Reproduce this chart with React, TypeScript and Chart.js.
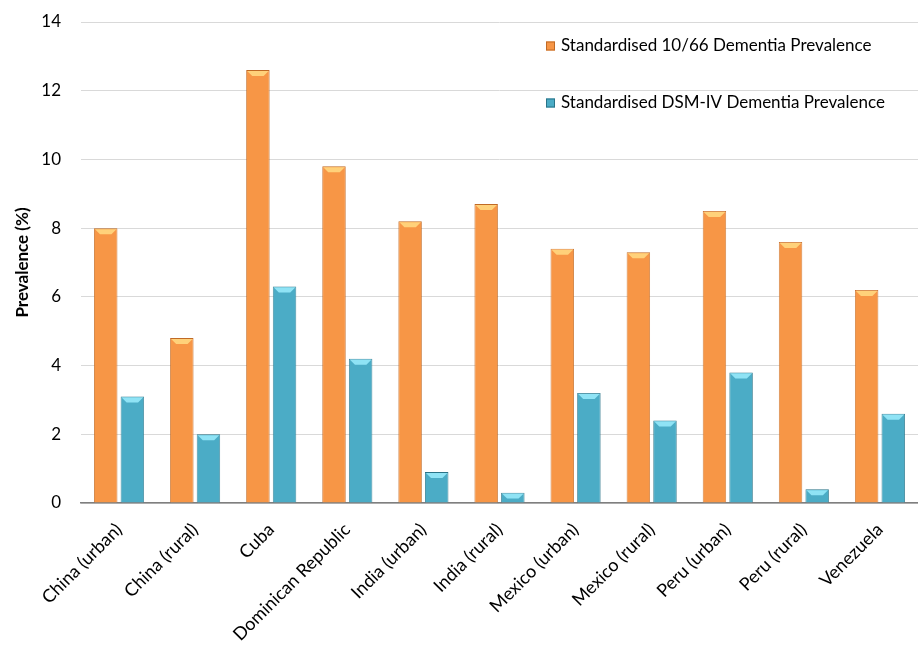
import React, { useEffect, useRef } from "react";
import { Chart, registerables } from "chart.js";

Chart.register(...registerables);

const categories = [
  "China (urban)",
  "China (rural)",
  "Cuba",
  "Dominican Republic",
  "India (urban)",
  "India (rural)",
  "Mexico (urban)",
  "Mexico (rural)",
  "Peru (urban)",
  "Peru (rural)",
  "Venezuela",
];
const prevalence1066 = [8.0, 4.8, 12.6, 9.8, 8.2, 8.7, 7.4, 7.3, 8.5, 7.6, 6.2];
const prevalenceDSM = [3.1, 2.0, 6.3, 4.2, 0.9, 0.3, 3.2, 2.4, 3.8, 0.4, 2.6];
const seriesNames = [
  "Standardised 10/66 Dementia Prevalence",
  "Standardised DSM-IV Dementia Prevalence",
];
const yTicks = [0, 2, 4, 6, 8, 10, 12, 14];

const FONT = "Lato, 'Open Sans', sans-serif";
const ORANGE = "#F79646";
const ORANGE_DARK = "#C06A25";
const ORANGE_LIGHT = "#FFD17A";
const BLUE = "#4BACC6";
const BLUE_DARK = "#2A7387";
const BLUE_LIGHT = "#8FE3F5";

const baseColors = [ORANGE, BLUE];
const darkColors = [ORANGE_DARK, BLUE_DARK];
const lightColors = [ORANGE_LIGHT, BLUE_LIGHT];

function barGradient(ctx: any, base: string, dark: string) {
  const chart = ctx.chart;
  const el = ctx.element;
  if (!el || !chart.chartArea) return base;
  const props = el.getProps(["x", "width"], true);
  const x0 = props.x - props.width / 2;
  const x1 = props.x + props.width / 2;
  if (!isFinite(x0) || !isFinite(x1) || x1 <= x0) return base;
  const g = chart.ctx.createLinearGradient(x0, 0, x1, 0);
  g.addColorStop(0, dark);
  g.addColorStop(0.14, base);
  g.addColorStop(0.86, base);
  g.addColorStop(1, dark);
  return g;
}

const bevelPlugin = {
  id: "bevel",
  afterDatasetsDraw(chart: any) {
    const { ctx } = chart;
    ctx.save();
    chart.data.datasets.forEach((_: any, di: number) => {
      const meta = chart.getDatasetMeta(di);
      meta.data.forEach((bar: any) => {
        const { x, y, base, width } = bar.getProps(["x", "y", "base", "width"], true);
        const x0 = x - width / 2 + 1;
        const x1 = x + width / 2 - 1;
        const h = Math.min(5, (base - y) / 2);
        if (h <= 0) return;
        ctx.fillStyle = lightColors[di];
        ctx.beginPath();
        ctx.moveTo(x0, y + 1);
        ctx.lineTo(x1, y + 1);
        ctx.lineTo(x1 - 5, y + 1 + h);
        ctx.lineTo(x0 + 5, y + 1 + h);
        ctx.closePath();
        ctx.fill();
      });
    });
    ctx.restore();
  },
};

const legendPlugin = {
  id: "customLegend",
  afterDraw(chart: any) {
    const { ctx, chartArea } = chart;
    const x = chartArea.right - 372;
    const ys = [chartArea.top + 24, chartArea.top + 81];
    ctx.save();
    ctx.font = `17px ${FONT}`;
    ctx.textBaseline = "middle";
    seriesNames.forEach((name, i) => {
      ctx.fillStyle = baseColors[i];
      ctx.fillRect(x, ys[i] - 4.5, 9, 9);
      ctx.strokeStyle = darkColors[i];
      ctx.lineWidth = 1;
      ctx.strokeRect(x + 0.5, ys[i] - 4, 8, 8);
      ctx.fillStyle = "#000";
      ctx.fillText(name, x + 15, ys[i]);
    });
    ctx.restore();
  },
};

export default function App() {
  const ref = useRef<HTMLCanvasElement>(null);
  useEffect(() => {
    document.body.style.margin = "0";
    const canvas = ref.current!;
    const chart = new Chart(canvas, {
      type: "bar",
      data: {
        labels: categories,
        datasets: [
          {
            label: seriesNames[0],
            data: prevalence1066,
            backgroundColor: (c: any) => barGradient(c, ORANGE, ORANGE_DARK),
            borderColor: ORANGE_DARK,
            borderWidth: 0.8,
            categoryPercentage: 0.7,
            barPercentage: 0.88,
          },
          {
            label: seriesNames[1],
            data: prevalenceDSM,
            backgroundColor: (c: any) => barGradient(c, BLUE, BLUE_DARK),
            borderColor: BLUE_DARK,
            borderWidth: 0.8,
            categoryPercentage: 0.7,
            barPercentage: 0.88,
          },
        ],
      },
      options: {
        animation: false,
        responsive: false,
        maintainAspectRatio: false,
        layout: { padding: { top: 22, right: 0, left: 0, bottom: 0 } },
        plugins: {
          legend: { display: false },
          tooltip: { enabled: false },
        },
        scales: {
          x: {
            afterFit: (axis: any) => {
              axis.height = 144;
            },
            grid: { display: false },
            border: { display: true, color: "#7f7f7f", width: 1.5 },
            ticks: {
              color: "#000",
              font: { family: FONT, size: 18 },
              maxRotation: 45,
              minRotation: 45,
              autoSkip: false,
              padding: 8,
            },
          },
          y: {
            min: 0,
            max: 14,
            afterBuildTicks: (axis: any) => {
              axis.ticks = yTicks.map((v) => ({ value: v }));
            },
            afterFit: (axis: any) => {
              axis.width = 81;
            },
            grid: {
              color: "#d9d9d9",
              lineWidth: 1,
              drawTicks: true,
              tickLength: 16,
              tickColor: "rgba(0,0,0,0)",
            },
            border: { display: false },
            ticks: {
              color: "#000",
              font: { family: FONT, size: 17 },
              padding: 4,
            },
            title: {
              display: true,
              text: "Prevalence (%)",
              color: "#000",
              font: { family: FONT, size: 17, weight: "bold" },
              padding: { top: 12, bottom: 0 },
            },
          },
        },
      },
      plugins: [bevelPlugin, legendPlugin],
    } as any);
    return () => chart.destroy();
  }, []);
  return (
    <div style={{ width: 918, height: 647 }}>
      <canvas ref={ref} width={918} height={647} style={{ display: "block" }} />
    </div>
  );
}
